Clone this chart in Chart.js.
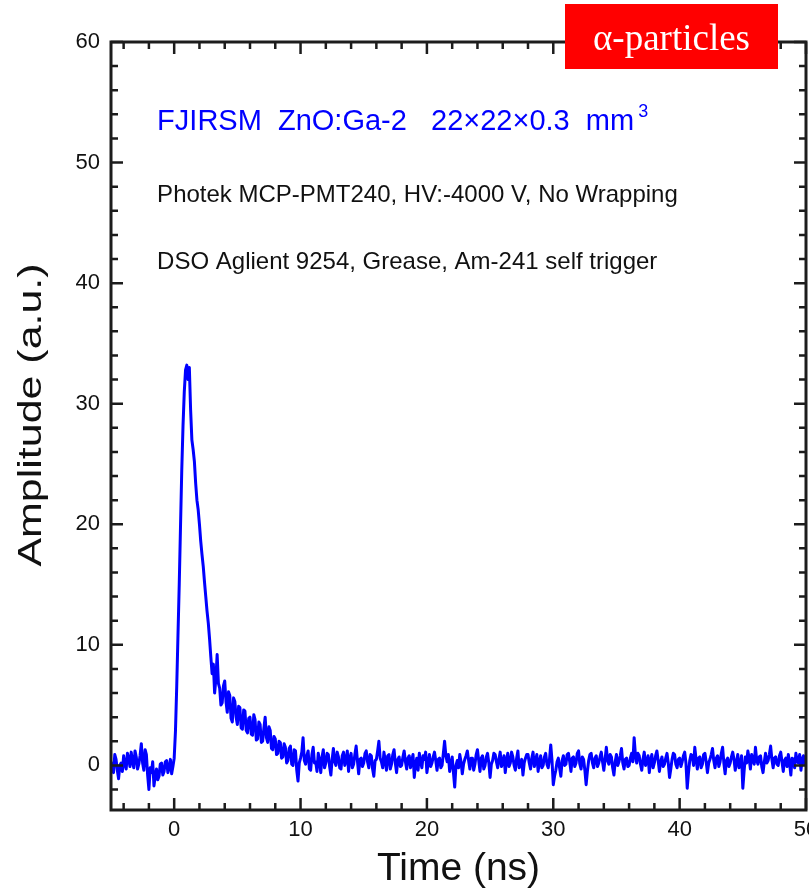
<!DOCTYPE html>
<html>
<head>
<meta charset="utf-8">
<script src="https://cdn.jsdelivr.net/npm/chart.js@4.4.1/dist/chart.umd.min.js"></script>
<style>
  html, body { margin: 0; padding: 0; background: #fff; }
  canvas { display: block; }
</style>
</head>
<body>
<canvas id="pulseChart" width="809" height="895"></canvas>
<script>
const T_START = -5;   // ns, first sample of the record
const T_STEP = 0.1;   // ns between samples

// pre-trigger baseline, -5.0 .. -0.1 ns
const preTrigger = [
    0.3, -0.2, -0.6, 0.9, 0.5, -0.4, -1.1, 0.0, 0.2, -0.5,
    0.8, 0.1, -0.3, 1.0, 0.6, -0.1, 1.1, 0.3, -0.2, 1.2,
    0.7, -0.3, 0.1, 0.8, 1.8, 0.2, -0.4, 1.3, 0.9, -0.8,
    -2.0, -0.2, -0.6, 0.3, -1.7, -0.9, -0.3, -1.2, -0.9, 0.1,
    0.2, -0.8, -0.5, 0.3, 0.4, -0.6, -0.2, 0.5, -0.7, -0.1
];

// rising edge and decay, 0.0 .. 9.9 ns
const pulse = [
    0.6, 2.8, 6.5, 10.8, 15.0, 19.8, 24.5, 28.2, 31.0, 32.8,
    33.2, 32.0, 33.0, 29.5, 27.0, 26.2, 25.2, 23.4, 22.0, 21.2,
    20.0, 18.6, 17.5, 16.5, 15.2, 14.0, 12.8, 11.8, 10.5, 9.0,
    7.6, 8.4, 6.0, 7.2, 9.2, 6.8, 6.4, 5.0, 5.2, 6.6,
    7.0, 5.3, 4.4, 6.1, 5.8, 3.9, 3.6, 5.6, 5.3, 4.0,
    3.4, 4.9, 4.8, 3.1, 3.0, 4.6, 4.5, 2.9, 2.7, 3.9,
    4.0, 2.6, 2.5, 4.2, 3.8, 2.1, 2.2, 3.6, 3.4, 1.9,
    2.0, 3.1, 4.0, 2.3, 1.9, 3.2, 2.9, 1.4, 1.3, 2.4,
    2.2, 0.9, 1.0, 2.0, 1.9, 0.6, 0.7, 1.8, 1.5, 0.2,
    0.4, 1.4, 1.6, 0.1, 0.0, 1.3, 1.2, -0.4, -1.3, 0.2
];

// baseline after the pulse, 10.0 .. 50.0 ns (one row = 2 ns)
const tail = [
    0.6, 1.1, 2.3, 0.4, 0.1, 0.8, 1.2, -0.3, -0.4, 0.9, 1.5, 0.2, 0.3, -0.5, 1.0, 0.4, -0.6, 0.7, 1.3, -0.2,
    0.2, 1.0, 0.9, -0.1, -0.8, 0.5, 1.4, 0.3, 0.0, 1.1, 0.7, -0.2, -0.3, 0.8, 1.1, 0.0, 0.4, 1.2, -0.5, 0.6,
    1.0, -0.2, 0.1, 0.9, 1.6, 0.4, -0.7, 0.5, 0.6, -0.1, 0.2, 1.0, 1.2, 0.3, -0.2, 0.9, 0.8, -0.3, -0.9, 0.4,
    0.5, 1.2, 2.0, 0.6, 0.3, -0.2, 1.1, 0.4, -0.4, 0.8, 0.9, -0.3, 0.1, 0.9, 1.3, 0.2, -0.6, 0.5, 0.7, -0.1,
    0.0, 0.7, 1.2, 0.3, -0.3, 0.6, 0.8, -0.2, 0.4, 0.9, -1.0, 0.1, 0.6, -0.4, 1.0, 0.3, -0.2, 0.8, 0.5, 1.1,
    -0.6, 0.2, 0.9, -0.1, 0.2, 0.7, 1.1, 0.4, -0.4, 0.5, 0.6, -0.2, 0.0, 1.0, 2.0, 0.8, 0.3, 0.9, -0.5, 0.1,
    0.7, -0.6, -1.8, 0.0, 0.4, -0.2, 0.9, 0.3, -0.7, 0.1, 0.5, 0.8, 1.2, 0.4, -0.3, 0.6, 0.6, -0.4, 0.1, 0.9,
    1.3, 0.4, -0.5, 0.6, 0.8, -0.3, 0.0, 0.7, 1.0, 0.2, -1.0, 0.1, 0.4, 1.0, 0.9, 0.3, -0.2, 0.5, 1.1, -0.1,
    0.3, 0.8, -0.6, 0.4, 1.0, -0.1, 0.2, 1.1, 0.7, 0.0, -0.4, 0.6, 1.2, -0.2, 0.1, 0.5, -0.8, 0.2, 0.6, 0.9,
    0.9, 0.2, -0.3, 0.6, 1.1, -0.1, 0.4, 0.9, -0.5, 0.3, 0.8, -0.2, 0.0, 0.7, 1.0, 0.1, -0.2, 0.5, 1.7, 0.4,
    -1.6, -0.9, -0.4, 0.3, 0.6, -0.2, -0.9, 0.4, 0.8, 0.0, 0.1, 0.9, 1.0, 0.3, -0.5, 0.6, 0.7, -0.1, 0.2, 1.0,
    1.2, 0.1, -0.3, 0.7, 0.5, -0.4, -1.6, -0.5, 0.4, 0.9, 1.0, 0.2, -0.2, 0.6, 0.8, -0.1, 0.2, 0.7, 1.1, 0.3,
    -0.4, 0.5, 1.5, 0.4, 0.1, 0.9, 0.7, -0.2, -0.8, 0.3, 0.9, 0.0, 0.3, 0.8, 1.4, 0.2, -0.3, 0.5, 0.6, -0.1,
    0.0, 0.6, 1.0, 0.3, 2.3, 0.9, 0.2, 1.0, 0.8, 0.1, -0.4, 0.5, 1.1, 0.0, 0.3, 0.8, -0.6, 0.4, 0.9, -0.2,
    0.2, 0.8, 1.2, 0.4, -0.5, 0.3, 0.7, -0.1, 0.1, 0.6, 1.0, 0.2, -1.0, -0.3, 0.5, 1.0, 0.9, 0.1, -0.2, 0.5,
    0.6, -0.1, 0.3, 0.8, 1.1, 0.2, -1.9, -0.6, 0.4, 0.9, 0.8, 0.0, 1.5, 0.5, -0.3, 0.6, 0.7, -0.2, 0.1, 0.9,
    1.0, 0.3, -0.6, 0.2, 0.5, 0.9, 1.4, 0.4, -0.2, 0.6, 0.8, -0.1, 0.3, 1.0, 1.5, 0.2, -0.7, 0.4, 0.6, -0.1,
    0.2, 0.7, 1.1, 0.5, -0.4, 0.3, 0.9, -0.2, 0.0, 0.8, -1.9, -0.5, 0.7, 0.2, 1.2, 0.6, -0.3, 0.9, 0.5, 0.1,
    1.5, 0.4, 0.1, 0.7, 0.8, -0.1, -0.6, 0.3, 1.0, 0.2, 0.4, 0.9, 1.6, 0.5, -0.2, 0.6, 0.7, 0.1, 0.0, 0.8,
    1.1, 0.3, -0.5, 0.4, 0.6, -0.1, 0.9, 0.2, -0.8, 0.6, 0.5, -0.2, 1.0, 0.4, 0.2, 0.9, -0.4, 0.5, 0.8, 0.1,
    0.3
];

const xTicks = [0, 10, 20, 30, 40, 50];
const yTicks = [0, 10, 20, 30, 40, 50, 60];
const X_MIN = -5, X_MAX = 50;
const Y_MIN = -3.7, Y_MAX = 60;
const MINOR_STEP = 2;

const SANS = "'Liberation Sans', Arial, sans-serif";
const AXIS_COLOR = "#1c1c1c";
const TEXT_COLOR = "#111";

const amplitude = [...preTrigger, ...pulse, ...tail];
const points = amplitude.map((v, i) => ({
    x: Math.round((T_START + i * T_STEP) * 10) / 10,
    y: v
}));

// box round the plot with inward major/minor ticks on all four sides
const framePlugin = {
    id: "frame",
    afterDatasetsDraw(chart) {
        const { ctx, chartArea: a, scales: { x, y } } = chart;
        ctx.save();
        ctx.strokeStyle = AXIS_COLOR;
        ctx.lineWidth = 2.5;
        ctx.beginPath();
        for (let v = Math.ceil(X_MIN / MINOR_STEP) * MINOR_STEP; v <= X_MAX; v += MINOR_STEP) {
            const len = xTicks.includes(v) ? 12 : 7;
            const px = x.getPixelForValue(v);
            ctx.moveTo(px, a.bottom); ctx.lineTo(px, a.bottom - len);
            ctx.moveTo(px, a.top); ctx.lineTo(px, a.top + len);
        }
        for (let v = Math.ceil(Y_MIN / MINOR_STEP) * MINOR_STEP; v <= Y_MAX; v += MINOR_STEP) {
            const len = yTicks.includes(v) ? 12 : 7;
            const py = y.getPixelForValue(v);
            ctx.moveTo(a.left, py); ctx.lineTo(a.left + len, py);
            ctx.moveTo(a.right, py); ctx.lineTo(a.right - len, py);
        }
        ctx.stroke();
        ctx.lineWidth = 3;
        ctx.strokeRect(a.left, a.top, a.right - a.left, a.bottom - a.top);
        ctx.restore();
    }
};

// y-axis title, sample / setup notes and the particle badge
const notesPlugin = {
    id: "notes",
    afterDraw(chart) {
        const { ctx, scales: { x, y } } = chart;
        ctx.save();

        // tall, narrow lettering for the amplitude title
        ctx.save();
        ctx.translate(32, 415);
        ctx.rotate(-Math.PI / 2);
        ctx.scale(1.13, 0.88);
        ctx.fillStyle = TEXT_COLOR;
        ctx.font = `38px ${SANS}`;
        ctx.textAlign = "center";
        ctx.textBaseline = "middle";
        ctx.fillText("Amplitude (a.u.)", 0, 0);
        ctx.restore();

        const left = x.getPixelForValue(-1.35);
        ctx.textBaseline = "alphabetic";
        ctx.textAlign = "left";

        ctx.fillStyle = "#0000ff";
        ctx.font = `29px ${SANS}`;
        const head = "FJIRSM  ZnO:Ga-2   22\u00d722\u00d70.3  mm";
        const yHead = y.getPixelForValue(52.7);
        ctx.fillText(head, left, yHead);
        const w = ctx.measureText(head).width;
        ctx.font = `18px ${SANS}`;
        ctx.fillText("3", left + w + 4, yHead - 13);

        ctx.fillStyle = TEXT_COLOR;
        ctx.font = `24px ${SANS}`;
        ctx.fillText("Photek MCP-PMT240, HV:-4000 V, No Wrapping", left, y.getPixelForValue(46.7));
        ctx.fillText("DSO Aglient 9254, Grease, Am-241 self trigger", left, y.getPixelForValue(41.2));

        ctx.fillStyle = "#ff0000";
        ctx.fillRect(565, 4, 213, 65);
        ctx.fillStyle = "#fff";
        ctx.textAlign = "center";
        ctx.font = "37px 'Liberation Serif', 'Times New Roman', serif";
        ctx.fillText("\u03b1-particles", 671.5, 50);
        ctx.restore();
    }
};

const tickFont = { family: SANS, size: 22 };

new Chart(document.getElementById("pulseChart"), {
    type: "line",
    data: {
        datasets: [{
            data: points,
            borderColor: "#0000ff",
            borderWidth: 3,
            borderJoinStyle: "round",
            pointRadius: 0,
            tension: 0,
            fill: false
        }]
    },
    options: {
        responsive: false,
        animation: false,
        layout: { padding: { top: 42, right: 3, left: 0, bottom: 0 } },
        plugins: { legend: { display: false }, tooltip: { enabled: false } },
        scales: {
            x: {
                type: "linear",
                min: X_MIN,
                max: X_MAX,
                afterBuildTicks: s => { s.ticks = xTicks.map(v => ({ value: v })); },
                afterFit: s => { s.height = 85; s.paddingLeft = 0; s.paddingRight = 0; },
                grid: { display: false, drawTicks: false },
                border: { display: false },
                ticks: { font: tickFont, color: TEXT_COLOR, padding: 7, maxRotation: 0, autoSkip: false },
                title: {
                    display: true,
                    text: "Time (ns)",
                    font: { family: SANS, size: 39 },
                    color: TEXT_COLOR,
                    padding: { top: 0, bottom: 2 }
                }
            },
            y: {
                min: Y_MIN,
                max: Y_MAX,
                afterBuildTicks: s => { s.ticks = yTicks.map(v => ({ value: v })); },
                afterFit: s => { s.width = 111; s.paddingTop = 0; s.paddingBottom = 0; },
                grid: { display: false, drawTicks: false },
                border: { display: false },
                ticks: { font: tickFont, color: TEXT_COLOR, padding: 11, autoSkip: false }
            }
        }
    },
    plugins: [framePlugin, notesPlugin]
});
</script>
</body>
</html>
